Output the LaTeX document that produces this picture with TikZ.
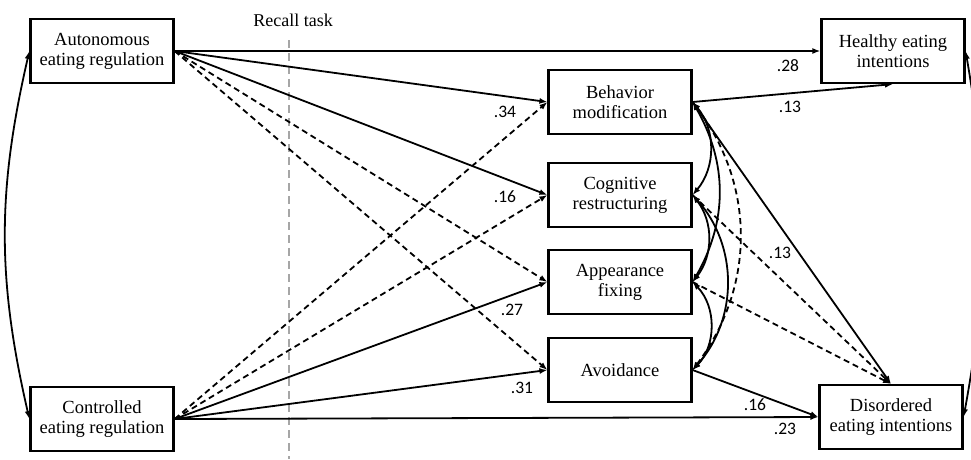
\documentclass[tikz,border=0pt]{standalone}
\usepackage{fontspec}
\setmainfont{Liberation Serif}
\newfontfamily\coeffont{Carlito}
\usetikzlibrary{arrows.meta}

\begin{document}
\begin{tikzpicture}
[x=1pt,y=1pt,
  boxdecorate/.style={shape=rectangle,draw,line width=2.2pt,minimum width=143pt,%
    minimum height=64pt,align=center,inner sep=2pt,font=\fontsize{18.5}{20}\selectfont},%
  linedecorate/.style={-{Latex[length=8pt,width=6pt]},line width=1.8pt},%
  dashdecorate/.style={linedecorate,dash pattern=on 6pt off 4pt},%
  covdecorate/.style={{Latex[length=8pt,width=6pt]}-{Latex[length=8pt,width=6pt]},line width=1.8pt},%
  coefdecorate/.style={inner sep=0pt,font=\coeffont\fontsize{17.5}{17.5}\selectfont}]
\useasboundingbox (0,0) rectangle (971,-459);
%% recall task marker
\node (recall) at (293,-20) [font=\fontsize{18}{19.5}\selectfont] {Recall task};
\coordinate (recalltop) at (289,-40);
\coordinate (recallbot) at (289,-459);
\draw[gray!70,line width=1.5pt,dash pattern=on 8pt off 5pt] (recalltop) -- (recallbot);
%% nodes or boxes
\foreach \nodename/\x/\y/\nodetext in {
  %% predictors
  auton/102/-51/{Autonomous\\eating regulation},
  contr/102/-419/{Controlled\\eating regulation},
  %% mediators
  behav/620/-102/{Behavior\\modification},
  cognit/620/-195/{Cognitive\\restructuring},
  appear/620/-282/{Appearance\\fixing},
  avoid/620/-370/{Avoidance},
  %% outcomes
  healthy/893/-51/{Healthy eating\\intentions},
  disord/891/-417/{Disordered\\eating intentions}}
{
  \node (\nodename) at (\x,\y) [boxdecorate] {\nodetext};
}
%% solid paths
\path
\foreach \startnode/\endnode in {
  auton.east/healthy.west, auton.east/behav.west, auton.east/cognit.west,
  contr.east/appear.west, contr.east/avoid.west, contr.east/disord.west,
  behav.east/healthy.south, behav.east/disord.north, avoid.east/disord.west}
{
  (\startnode) edge[linedecorate] (\endnode)
};
%% dashed paths
\path
\foreach \startnode/\endnode in {
  auton.east/appear.west, auton.east/avoid.west,
  contr.east/behav.west, contr.east/cognit.west,
  cognit.east/disord.north, appear.east/disord.north}
{
  (\startnode) edge[dashdecorate] (\endnode)
};
%% covariances
\path
\foreach \startnode/\endnode/\bendangle in {
  behav.east/cognit.east/40, behav.east/appear.east/30,
  cognit.east/appear.east/38, cognit.east/avoid.east/42,
  appear.east/avoid.east/44}
{
  (\startnode) edge[covdecorate,bend left=\bendangle] (\endnode)
};
\path (behav.east) edge[covdecorate,dash pattern=on 6pt off 4pt,bend left=37] (avoid.east);
\path (auton.west) edge[covdecorate,bend right=13] (contr.west);
\path (healthy.east) edge[covdecorate,bend left=10] (disord.east);
%% coefficients
\foreach \coefname/\x/\y/\coefvalue in {
  coefhea/788/-66/.28, coefbeh/505/-112/.34, coefcog/505/-197/.16,
  coefapp/512/-310/.27, coefavo/522/-388/.31, coefbehhea/790/-107/.13,
  coefbehdis/780/-253/.13, coefavodis/755/-405/.16, coefcondis/785/-429/.23}
{
  \node (\coefname) at (\x,\y) [coefdecorate] {\coefvalue};
}
\end{tikzpicture}
\end{document}
